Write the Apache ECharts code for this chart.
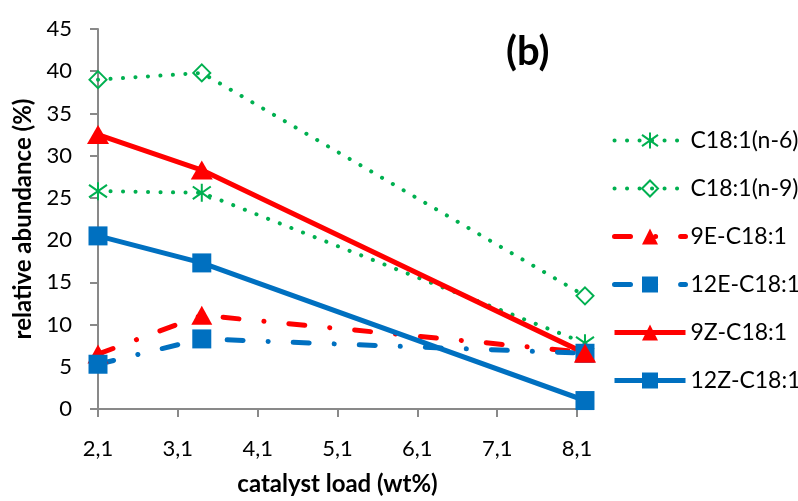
<!DOCTYPE html>
<html>
<head>
<meta charset="utf-8">
<script src="https://cdn.jsdelivr.net/npm/echarts@6/dist/echarts.min.js"></script>
<style>
  html, body { margin: 0; padding: 0; background: #fff; }
  #chart { width: 798px; height: 501px; }
</style>
</head>
<body>
<div id="chart"></div>
<script>
// catalyst load (wt%) of the three samples
const loads = [2.1, 3.4, 8.2];
// relative abundance (%) per isomer
const n6 = [25.8, 25.6, 7.8];
const n9 = [39.0, 39.8, 13.4];
const e9 = [6.5, 11.1, 6.7];
const e12 = [5.3, 8.3, 6.6];
const z9 = [32.5, 28.3, 6.6];
const z12 = [20.5, 17.3, 1.0];
const seriesNames = ['C18:1(n-6)', 'C18:1(n-9)', '9E-C18:1', '12E-C18:1', '9Z-C18:1', '12Z-C18:1'];

const GREEN = '#00B050';
const RED = '#FF0000';
const BLUE = '#0070C0';
const FONT = 'Lato, sans-serif';

const pts = (ys) => loads.map((x, i) => [x, ys[i]]);

const dotted = { type: [0.1, 12.4], cap: 'round', width: 4, color: GREEN };
const dashDot = (color) => ({ type: [16, 25, 0.1, 25], cap: 'round', width: 5, color: color });

const chart = echarts.init(document.getElementById('chart'));

chart.setOption({
  animation: false,
  backgroundColor: '#fff',
  textStyle: { fontFamily: FONT },
  grid: { left: 98, right: 221, top: 29, bottom: 88, containLabel: false },
  legend: {
    orient: 'vertical',
    left: 607,
    top: 124,
    itemWidth: 71,
    itemHeight: 20,
    itemGap: 25,
    data: seriesNames,
    lineStyle: { width: 'inherit' },
    textStyle: { fontFamily: FONT, fontSize: 23, color: '#000' }
  },
  graphic: [{
    type: 'text',
    left: 506,
    top: 32,
    style: { text: '(b)', font: 'bold 40px ' + FONT, fill: '#000' }
  }],
  xAxis: {
    type: 'value',
    min: 2.1,
    max: 8.1,
    interval: 1,
    name: 'catalyst load (wt%)',
    nameLocation: 'middle',
    nameGap: 63,
    nameTextStyle: { fontFamily: FONT, fontSize: 24, fontWeight: 'bold', color: '#000' },
    splitLine: { show: false },
    axisLine: { lineStyle: { color: '#898989', width: 2 } },
    axisTick: { show: true, length: 8, lineStyle: { color: '#898989', width: 2 } },
    axisLabel: {
      margin: 29,
      fontSize: 22,
      color: '#000',
      formatter: (v) => v.toFixed(1).replace('.', ',')
    }
  },
  yAxis: {
    type: 'value',
    min: 0,
    max: 45,
    interval: 5,
    name: 'relative abundance (%)',
    nameLocation: 'middle',
    nameGap: 62,
    nameTextStyle: { fontFamily: FONT, fontSize: 24, fontWeight: 'bold', color: '#000' },
    splitLine: { show: false },
    axisLine: { show: true, lineStyle: { color: '#898989', width: 2 } },
    axisTick: { show: true, length: 8, lineStyle: { color: '#898989', width: 2 } },
    axisLabel: { margin: 26, fontSize: 22, color: '#000' }
  },
  series: [
    {
      name: seriesNames[0],
      type: 'line',
      clip: false,
      data: pts(n6),
      symbol: 'path://M10,0L10,20M1,3L19,17M1,17L19,3',
      symbolSize: 18,
      itemStyle: { color: 'rgba(255,255,255,0)', borderColor: GREEN, borderWidth: 2 },
      lineStyle: dotted
    },
    {
      name: seriesNames[1],
      type: 'line',
      clip: false,
      data: pts(n9),
      symbol: 'diamond',
      symbolSize: 17,
      itemStyle: { color: 'rgba(255,255,255,0)', borderColor: GREEN, borderWidth: 2 },
      lineStyle: dotted
    },
    {
      name: seriesNames[2],
      type: 'line',
      clip: false,
      data: pts(e9),
      symbol: 'triangle',
      symbolSize: [21, 19],
      itemStyle: { color: RED },
      lineStyle: dashDot(RED)
    },
    {
      name: seriesNames[3],
      type: 'line',
      clip: false,
      data: pts(e12),
      symbol: 'rect',
      symbolSize: 19,
      itemStyle: { color: BLUE },
      lineStyle: dashDot(BLUE)
    },
    {
      name: seriesNames[4],
      type: 'line',
      clip: false,
      data: pts(z9),
      symbol: 'triangle',
      symbolSize: [22, 19],
      itemStyle: { color: RED },
      lineStyle: { type: 'solid', width: 5, color: RED }
    },
    {
      name: seriesNames[5],
      type: 'line',
      clip: false,
      data: pts(z12),
      symbol: 'rect',
      symbolSize: 19,
      itemStyle: { color: BLUE },
      lineStyle: { type: 'solid', width: 5, color: BLUE }
    }
  ]
});
</script>
</body>
</html>
